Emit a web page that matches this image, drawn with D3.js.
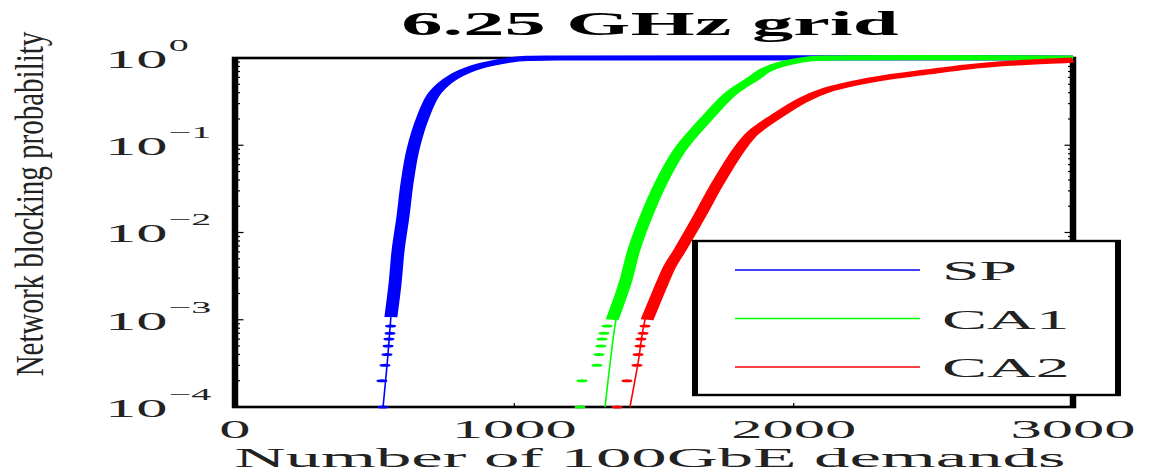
<!DOCTYPE html>
<html>
<head>
<meta charset="utf-8">
<script src="https://cdn.jsdelivr.net/npm/d3@7"></script>
<style>
  html, body { margin: 0; padding: 0; background: #fff; overflow: hidden; }
  svg { display: block; font-family: "Liberation Serif", "Times New Roman", serif; }
</style>
</head>
<body>
<div id="chart"></div>
<script>
  // series: x = number of demands, p = blocking probability
  const seriesNames = ["SP", "CA1", "CA2"];
  const seriesColors = ["#0000ff", "#00ff00", "#ff0000"];

  const spBandX = [558, 573, 584, 601, 616, 637, 673, 716, 780, 866, 984, 1045, 1150, 3000];
  const spBandP = [1.07e-3, 2.6e-3, 6.3e-3, 0.015, 0.037, 0.089, 0.21, 0.40, 0.60, 0.79, 0.95, 0.99, 1, 1];
  const spThinX = [530, 545, 558];
  const spThinP = [1e-4, 3.2e-4, 1.07e-3];
  const spDotX = [530, 526, 537, 544, 548, 551, 555, 557];
  const spDotP = [1e-4, 2e-4, 3e-4, 4e-4, 5e-4, 6e-4, 7e-4, 8.5e-4];

  const ca1BandX = [1350, 1396, 1428, 1471, 1525, 1593, 1693, 1779, 1862, 1897, 1969, 2059, 2148, 3000];
  const ca1BandP = [1e-3, 2.6e-3, 6.3e-3, 0.015, 0.037, 0.089, 0.21, 0.40, 0.60, 0.72, 0.87, 0.98, 1, 1];
  const ca1ThinX = [1325, 1343, 1364, 1396];
  const ca1ThinP = [1e-4, 3.2e-4, 1e-3, 2.6e-3];
  const ca1DotX = [1235, 1242, 1296, 1303, 1310, 1314, 1321, 1332];
  const ca1DotP = [1e-4, 2e-4, 3e-4, 4e-4, 5e-4, 6e-4, 7e-4, 8.5e-4];

  const ca2BandX = [1475, 1529, 1557, 1593, 1661, 1729, 1804, 1854, 1933, 2033, 2119, 2212, 2334, 2477, 2621, 2774, 2979, 3000];
  const ca2BandP = [1e-3, 2.6e-3, 4.1e-3, 6.3e-3, 0.015, 0.037, 0.089, 0.138, 0.21, 0.33, 0.43, 0.51, 0.60, 0.69, 0.79, 0.87, 0.94, 0.95];
  const ca2ThinX = [1414, 1443, 1468, 1500];
  const ca2ThinP = [1e-4, 3.2e-4, 1e-3, 1.8e-3];
  const ca2DotX = [1368, 1403, 1439, 1443, 1450, 1453, 1461, 1468];
  const ca2DotP = [1e-4, 2e-4, 3e-4, 4e-4, 5e-4, 6e-4, 7e-4, 8.5e-4];

  const xTicks = [0, 1000, 2000, 3000];
  const yTicks = [1e-4, 1e-3, 1e-2, 1e-1, 1];
  const yExponents = ["\u22124", "\u22123", "\u22122", "\u22121", "0"];

  const titleText = "6.25 GHz grid";
  const xLabelText = "Number of 100GbE demands";
  const yLabelText = "Network blocking probability";

  const zip = (xs, ps) => xs.map((v, i) => [v, ps[i]]);
  const series = [
    { band: zip(spBandX, spBandP), thin: zip(spThinX, spThinP), dots: zip(spDotX, spDotP) },
    { band: zip(ca1BandX, ca1BandP), thin: zip(ca1ThinX, ca1ThinP), dots: zip(ca1DotX, ca1DotP) },
    { band: zip(ca2BandX, ca2BandP), thin: zip(ca2ThinX, ca2ThinP), dots: zip(ca2DotX, ca2DotP) }
  ];

  // the picture is stretched sideways, so draw in a narrow space and stretch it
  const width = 1149;
  const height = 473;
  const stretch = 2.5;
  const w0 = width / stretch;
  const plot = { left: 94, right: 429.2, top: 58, bottom: 407 };

  const svg = d3.select("#chart")
    .append("svg")
    .attr("width", width)
    .attr("height", height)
    .attr("viewBox", `0 0 ${w0} ${height}`)
    .attr("preserveAspectRatio", "none");

  const xScale = d3.scaleLinear().domain([0, 3000]).range([plot.left, plot.right]);
  const yScale = d3.scaleLog().domain([1e-4, 1]).range([plot.bottom, plot.top]);

  // title
  svg.append("text")
    .attr("x", 260)
    .attr("y", 35)
    .attr("text-anchor", "middle")
    .attr("font-size", 33)
    .attr("font-weight", "bold")
    .text(titleText);

  // minor ticks on log axis
  const minorTicks = [];
  for (let e = -4; e < 0; e++) {
    for (let m = 2; m <= 9; m++) minorTicks.push(m * Math.pow(10, e));
  }
  const tickG = svg.append("g").attr("stroke", "#000").attr("stroke-width", 1.2);
  [plot.left, plot.right].forEach((edge, k) => {
    const dir = k === 0 ? 1 : -1;
    tickG.selectAll(null)
      .data(yTicks)
      .enter()
      .append("line")
      .attr("x1", edge)
      .attr("x2", edge + dir * 3.4)
      .attr("y1", d => yScale(d))
      .attr("y2", d => yScale(d))
      .attr("vector-effect", "non-scaling-stroke");
    tickG.selectAll(null)
      .data(minorTicks)
      .enter()
      .append("line")
      .attr("x1", edge)
      .attr("x2", edge + dir * 2)
      .attr("y1", d => yScale(d))
      .attr("y2", d => yScale(d))
      .attr("vector-effect", "non-scaling-stroke");
  });
  [plot.bottom, plot.top].forEach((edge, k) => {
    const dir = k === 0 ? -1 : 1;
    tickG.selectAll(null)
      .data(xTicks)
      .enter()
      .append("line")
      .attr("x1", d => xScale(d))
      .attr("x2", d => xScale(d))
      .attr("y1", edge)
      .attr("y2", edge + dir * 4)
      .attr("vector-effect", "non-scaling-stroke");
  });

  // axes box
  svg.append("rect")
    .attr("x", plot.left)
    .attr("y", plot.top)
    .attr("width", plot.right - plot.left)
    .attr("height", plot.bottom - plot.top)
    .attr("fill", "none")
    .attr("stroke", "#000")
    .attr("stroke-width", 2.6);

  // x tick labels
  svg.append("g")
    .selectAll("text")
    .data(xTicks)
    .enter()
    .append("text")
    .attr("x", d => xScale(d))
    .attr("y", 438)
    .attr("text-anchor", "middle")
    .attr("font-size", 25)
    .attr("fill", "#222")
    .text(d => d);

  // y tick labels 10^n
  const yLab = svg.append("g")
    .selectAll("text")
    .data(yTicks)
    .enter()
    .append("text")
    .attr("x", 42)
    .attr("y", d => yScale(d) + 10)
    .attr("font-size", 25)
    .attr("fill", "#222");
  yLab.append("tspan").text("10");
  yLab.append("tspan")
    .attr("font-size", 16)
    .attr("dx", 0.5)
    .attr("dy", -17)
    .text((d, i) => yExponents[i]);

  // axis labels
  svg.append("text")
    .attr("x", 260)
    .attr("y", 467)
    .attr("text-anchor", "middle")
    .attr("font-size", 28.3)
    .attr("fill", "#222")
    .text(xLabelText);

  svg.append("text")
    .attr("transform", "translate(17,204) scale(0.55,1) rotate(-90)")
    .attr("text-anchor", "middle")
    .attr("font-size", 29)
    .attr("fill", "#222")
    .text(yLabelText);

  // curves
  const line = d3.line()
    .x(d => xScale(d[0]))
    .y(d => yScale(d[1]))
    .curve(d3.curveCatmullRom.alpha(0.5));

  series.forEach((s, i) => {
    const g = svg.append("g");
    g.append("path")
      .datum(s.thin)
      .attr("d", line)
      .attr("fill", "none")
      .attr("stroke", seriesColors[i])
      .attr("stroke-width", 1.6)
      .attr("vector-effect", "non-scaling-stroke");
    g.append("path")
      .datum(s.band)
      .attr("d", line)
      .attr("fill", "none")
      .attr("stroke", seriesColors[i])
      .attr("stroke-width", 5.2)
      .attr("stroke-linejoin", "round");
    g.selectAll("ellipse")
      .data(s.dots)
      .enter()
      .append("ellipse")
      .attr("cx", d => xScale(d[0]))
      .attr("cy", d => yScale(d[1]))
      .attr("rx", 2.2)
      .attr("ry", 1.5)
      .attr("fill", seriesColors[i]);
  });

  // legend
  const legend = svg.append("g");
  legend.append("rect")
    .attr("x", 278)
    .attr("y", 241)
    .attr("width", 169.2)
    .attr("height", 154)
    .attr("fill", "#fff")
    .attr("stroke", "#000")
    .attr("stroke-width", 2.4);
  const rows = legend.selectAll("g.row")
    .data(seriesNames)
    .enter()
    .append("g")
    .attr("class", "row")
    .attr("transform", (d, i) => `translate(0, ${270 + i * 48.5})`);
  rows.append("line")
    .attr("x1", 294)
    .attr("x2", 368)
    .attr("stroke", (d, i) => seriesColors[i])
    .attr("stroke-width", 1.5)
    .attr("vector-effect", "non-scaling-stroke");
  rows.append("text")
    .attr("x", 376.8)
    .attr("y", 10)
    .attr("font-size", 27)
    .attr("fill", "#222")
    .text(d => d);
</script>
</body>
</html>
